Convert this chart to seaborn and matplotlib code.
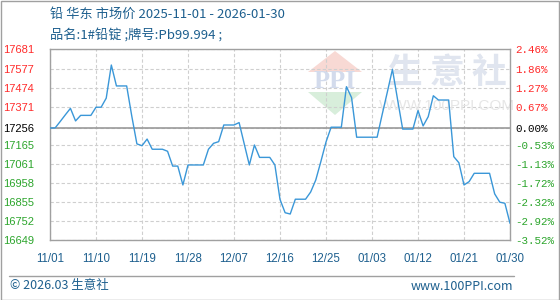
import matplotlib
matplotlib.use("Agg")
import matplotlib.pyplot as plt
from matplotlib.patches import Polygon, Rectangle
from matplotlib.lines import Line2D
import seaborn as sns
import pandas as pd

# ---------------- data ----------------
start_date = "2025-11-01"
prices = [
    17256, 17256, 17291, 17327, 17362, 17294, 17324, 17324, 17324, 17368,
    17368, 17417, 17596, 17483, 17483, 17483, 17320, 17170, 17160, 17196,
    17141, 17141, 17141, 17130, 17050, 17050, 16948, 17056, 17056, 17056,
    17056, 17141, 17173, 17182, 17272, 17272, 17272, 17285, 17170, 17056,
    17164, 17097, 17097, 17097, 17056, 16870, 16798, 16791, 16871, 16871,
    16871, 16910, 16975, 17075, 17180, 17260, 17260, 17260, 17479, 17420,
    17206, 17206, 17206, 17206, 17206, 17330, 17450, 17573, 17410, 17250,
    17250, 17250, 17350, 17267, 17317, 17430, 17407, 17407, 17407, 17101,
    17068, 16948, 16966, 17011, 17011, 17011, 17011, 16900, 16855, 16849,
    16741,
]
base_price = 17256
y_ticks = [17681, 17577, 17474, 17371, 17256, 17165, 17061, 16958, 16855, 16752, 16649]
pct_labels = ["2.46%", "1.86%", "1.27%", "0.67%", "0.00%", "-0.53%", "-1.13%",
              "-1.72%", "-2.32%", "-2.92%", "-3.52%"]
x_tick_dates = ["2025-11-01", "2025-11-10", "2025-11-19", "2025-11-28", "2025-12-07",
                "2025-12-16", "2025-12-25", "2026-01-03", "2026-01-12", "2026-01-21",
                "2026-01-30"]
x_tick_labels = ["11/01", "11/10", "11/19", "11/28", "12/07", "12/16", "12/25",
                 "01/03", "01/12", "01/21", "01/30"]
title_line1 = "铅 华东 市场价 2025-11-01 - 2026-01-30"
title_line2 = "品名:1#铅锭 ;牌号:Pb99.994 ;"

df = pd.DataFrame({
    "date": pd.date_range(start_date, periods=len(prices), freq="D"),
    "price": prices,
})

# ---------------- style ----------------
sns.set_theme(style="white")
plt.rcParams["font.family"] = ["Liberation Sans", "Noto Sans CJK SC", "DejaVu Sans"]
CJK = ["Noto Sans CJK SC", "DejaVu Sans"]
BLUE_TXT = "#1d5f8e"
RED = "#ff2a2a"
GREEN = "#2ca52c"

W, H = 560, 300
fig = plt.figure(figsize=(W / 100, H / 100), dpi=100)
L, R, T, B = 50, 510, 49.3, 240.3
ax = fig.add_axes([L / W, 1 - B / H, (R - L) / W, (B - T) / H])
ax.set_facecolor("white")

def axc(px, py):
    return ((px - L) / (R - L), (B - py) / (B - T))

# ---------------- watermark ----------------
tri_up = Polygon([axc(308, 72), axc(335, 51), axc(362, 72)], closed=True,
                 transform=ax.transAxes, facecolor="#f8d9d4", edgecolor="none", zorder=0.5)
tri_dn = Polygon([axc(308, 92), axc(362, 92), axc(335, 115)], closed=True,
                 transform=ax.transAxes, facecolor="#d8eedb", edgecolor="none", zorder=0.5)
ax.add_patch(tri_up)
ax.add_patch(tri_dn)
ax.text(*axc(335, 82), "PPI", transform=ax.transAxes, ha="center", va="center",
        fontsize=19, fontweight="bold", color="#d3dbec", zorder=0.6, family="Liberation Serif")
for ch, cx in zip("生意社", [405, 447, 489]):
    ax.text(*axc(cx, 72), ch, transform=ax.transAxes, ha="center", va="center",
            fontsize=25, fontweight="bold", color="#e0e5ef", family=CJK, zorder=0.6)
ax.text(*axc(447, 106), "WWW.100PPI.COM", transform=ax.transAxes, ha="center",
        va="center", fontsize=11, color="#e6e6e6", zorder=0.6)

# ---------------- line ----------------
sns.lineplot(data=df, x="date", y="price", ax=ax, color="#3a97d8", linewidth=1.0, zorder=3)
ax.axhline(base_price, color="#9a9a9a", linewidth=1.2, zorder=2)

ax.set_xlim(df["date"].iloc[0], df["date"].iloc[-1])
ax.set_ylim(y_ticks[-1], y_ticks[0])
ax.set_yticks(y_ticks)
ax.set_yticklabels([str(v) for v in y_ticks])
ax.set_xticks(pd.to_datetime(x_tick_dates))
ax.set_xticklabels(x_tick_labels)
ax.set_xlabel("")
ax.set_ylabel("")
ax.grid(True, linestyle=(0, (3, 2)), color="#cfcfcf", linewidth=0.8, zorder=1)
ax.set_axisbelow(True)
for s in ax.spines.values():
    s.set_color("#a0a0a0")
    s.set_linewidth(1.0)
    s.set_visible(True)

ax.tick_params(axis="y", length=0, pad=11.5, labelsize=8)
ax.tick_params(axis="x", length=0, pad=9, labelsize=8.3, labelcolor=BLUE_TXT)
for lbl, v in zip(ax.get_yticklabels(), y_ticks):
    lbl.set_color(RED if v > base_price else ("black" if v == base_price else GREEN))

ax2 = ax.twinx()
ax2.set_ylim(ax.get_ylim())
ax2.set_yticks(y_ticks)
ax2.set_yticklabels(pct_labels)
ax2.tick_params(axis="y", length=0, pad=4, labelsize=7.8)
ax2.grid(False)
for s in ax2.spines.values():
    s.set_visible(False)
for lbl, v in zip(ax2.get_yticklabels(), y_ticks):
    lbl.set_family(["Liberation Mono", "DejaVu Sans Mono"])
    lbl.set_color(RED if v > base_price else ("black" if v == base_price else GREEN))

# ---------------- titles / footer ----------------
fig.text(50 / W, 1 - 14.5 / H, title_line1, ha="left", va="center", fontsize=9.5,
         color=BLUE_TXT, family=CJK)
fig.text(50 / W, 1 - 34.5 / H, title_line2, ha="left", va="center", fontsize=9.5,
         color=BLUE_TXT, family=CJK)
fig.add_artist(Line2D([9 / W, 514 / W], [1 - 275.5 / H, 1 - 275.5 / H],
                      color="#a0a0a0", linewidth=1.0))
fig.text(10 / W, 1 - 286 / H, "© 2026.03 生意社", ha="left", va="center",
         fontsize=9, color=BLUE_TXT, family=CJK)
fig.text(513 / W, 1 - 286 / H, "www.100PPI.com", ha="right", va="center",
         fontsize=9, color=BLUE_TXT, family=CJK)
fig.add_artist(Rectangle((0.5 / W, 0.5 / H), (W - 1.5) / W, (H - 1.5) / H,
                         transform=fig.transFigure, fill=False,
                         edgecolor="#a0a0a0", linewidth=1.0))

fig.savefig("out.png", dpi=100)
